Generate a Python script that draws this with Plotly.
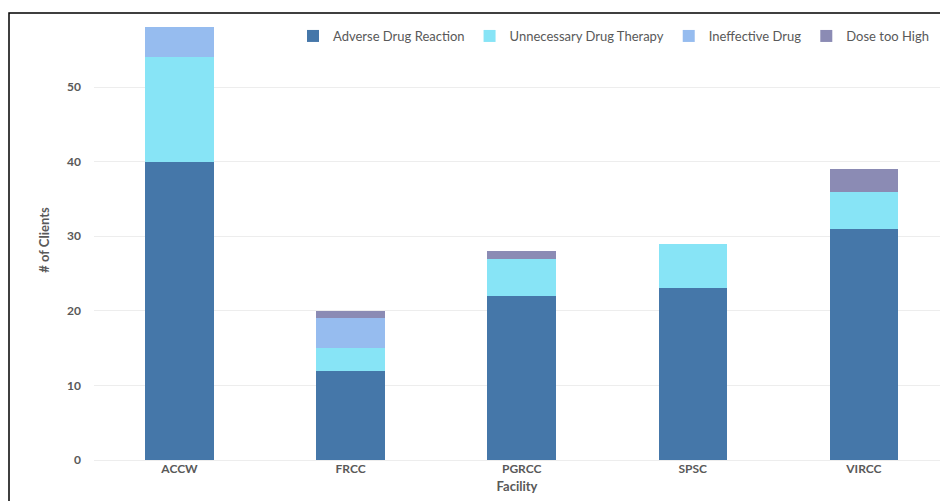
import plotly.graph_objects as go

facilities = ["ACCW", "FRCC", "PGRCC", "SPSC", "VIRCC"]
adverse_reaction = [40, 12, 22, 23, 31]
unnecessary_therapy = [14, 3, 5, 6, 5]
ineffective_drug = [4, 4, 0, 0, 0]
dose_too_high = [0, 1, 1, 0, 3]

series = [
    ("Adverse Drug Reaction", adverse_reaction, "#4577A9"),
    ("Unnecessary Drug Therapy", unnecessary_therapy, "#87E4F6"),
    ("Ineffective Drug", ineffective_drug, "#96BCEF"),
    ("Dose too High", dose_too_high, "#8B8BB4"),
]

W, H = 940, 501
L, R, T, B = 94, 0, 20, 41

fig = go.Figure()
for name, vals, color in series:
    fig.add_trace(go.Bar(
        x=facilities, y=vals, name=name,
        marker=dict(color=color, line=dict(width=0)),
        width=0.4,
    ))

axis_font = dict(family="Lato, Open Sans, sans-serif", size=12, color="#595959")

fig.update_layout(
    width=W, height=H,
    margin=dict(l=L, r=R, t=T, b=B),
    barmode="stack",
    paper_bgcolor="white",
    plot_bgcolor="white",
    font=dict(family="Lato, Open Sans, sans-serif", color="#595959"),
    legend=dict(
        orientation="h",
        x=(934 - L) / (W - L - R), xanchor="right",
        y=(460 - 36) / (H - T - B), yanchor="middle",
        font=dict(size=13, color="#595959"),
        traceorder="normal",
        bgcolor="rgba(0,0,0,0)",
        itemwidth=30,
    ),
    xaxis=dict(
        range=[-0.5, 4.445],
        tickfont=dict(axis_font, size=12),
        title=dict(text="<b>Facility</b>", font=dict(size=13, color="#595959"), standoff=6),
        showgrid=False, zeroline=False, showline=False,
        ticks="",
    ),
    yaxis=dict(
        range=[0, 59],
        dtick=10,
        tickfont=axis_font,
        tickprefix="<b>", ticksuffix="</b>",
        title=dict(text="<b># of Clients</b>", font=dict(size=13, color="#595959"), standoff=14),
        showgrid=True, gridcolor="#EDEDED", gridwidth=1,
        zeroline=True, zerolinecolor="#EDEDED", zerolinewidth=1,
        showline=False, ticks="",
        ticklabelstandoff=12,
    ),
)
fig.update_xaxes(tickprefix="<b>", ticksuffix="</b>")

# outer frame of the chart area
pw, ph = W - L - R, H - T - B
fig.add_shape(
    type="rect", xref="paper", yref="paper",
    x0=(9 - L) / pw, x1=2.0,
    y0=-1.0, y1=(460 - 13) / ph,
    line=dict(color="black", width=1.5),
    fillcolor="rgba(0,0,0,0)",
    layer="above",
)

fig.write_html("out.html")
